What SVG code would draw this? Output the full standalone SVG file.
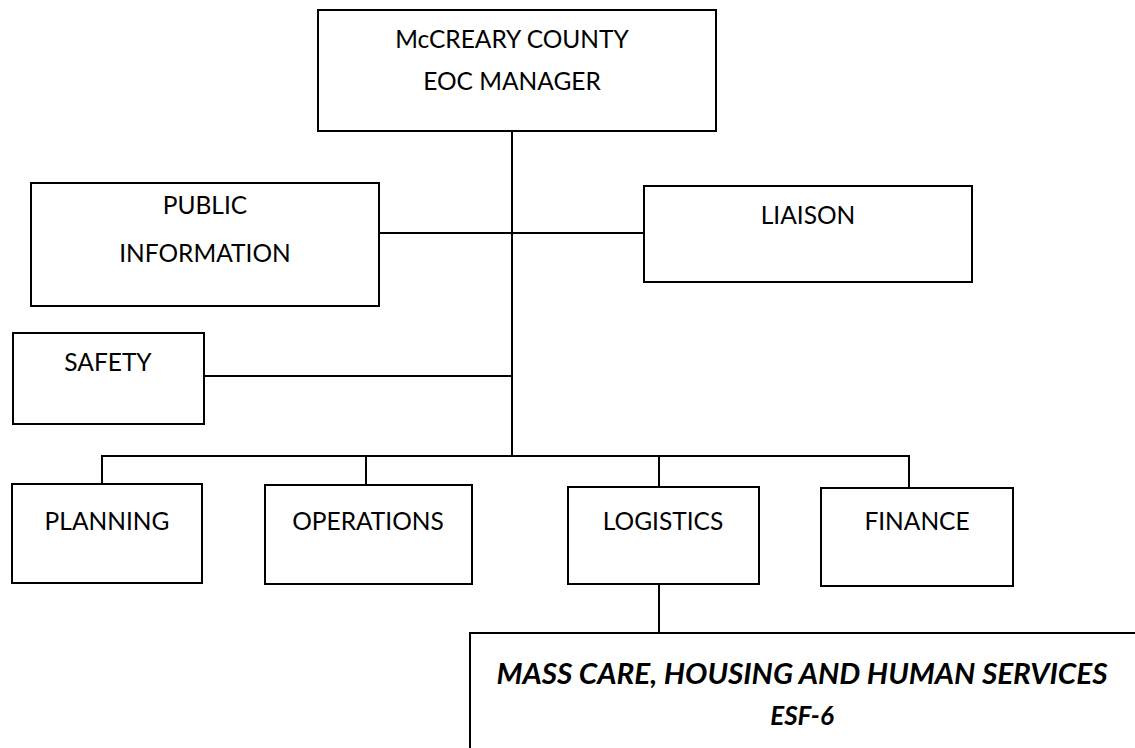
<svg xmlns="http://www.w3.org/2000/svg" width="1135" height="748" viewBox="0 0 1135 748">
<style>
.box{fill:#fff;stroke:#000;stroke-width:2}
.ln{stroke:#000;stroke-width:2;fill:none}
.t{font-family:Lato,"Open Sans","Liberation Sans",sans-serif;font-size:24.5px;fill:#000;text-anchor:middle}
.bi{font-family:Lato,"Open Sans","Liberation Sans",sans-serif;font-size:28px;font-weight:bold;font-style:italic;fill:#000;text-anchor:middle}
</style>
<rect width="1135" height="748" fill="#fff"/>
<g id="connectors">
<line class="ln" x1="512" y1="131" x2="512" y2="457"/>
<line class="ln" x1="379" y1="233" x2="644" y2="233"/>
<line class="ln" x1="204" y1="376" x2="512" y2="376"/>
<polyline class="ln" points="102,484 102,456 909,456 909,488"/>
<line class="ln" x1="366" y1="456" x2="366" y2="485"/>
<line class="ln" x1="659" y1="456" x2="659" y2="487"/>
<line class="ln" x1="659" y1="584" x2="659" y2="633"/>
</g>
<g id="eoc-manager">
<rect class="box" x="318" y="10" width="398" height="121"/>
<text class="t" x="512" y="48">McCREARY COUNTY</text>
<text class="t" x="512" y="90">EOC MANAGER</text>
</g>
<g id="public-information">
<rect class="box" x="31" y="183" width="348" height="123"/>
<text class="t" x="205" y="214">PUBLIC</text>
<text class="t" x="205" y="262">INFORMATION</text>
</g>
<g id="liaison">
<rect class="box" x="644" y="186" width="328" height="96"/>
<text class="t" x="808" y="224">LIAISON</text>
</g>
<g id="safety">
<rect class="box" x="13" y="333" width="191" height="91"/>
<text class="t" x="108" y="371">SAFETY</text>
</g>
<g id="planning">
<rect class="box" x="12" y="484" width="190" height="99"/>
<text class="t" x="107" y="530">PLANNING</text>
</g>
<g id="operations">
<rect class="box" x="265" y="485" width="207" height="99"/>
<text class="t" x="368" y="530">OPERATIONS</text>
</g>
<g id="logistics">
<rect class="box" x="568" y="487" width="191" height="97"/>
<text class="t" x="663" y="530">LOGISTICS</text>
</g>
<g id="finance">
<rect class="box" x="821" y="488" width="192" height="98"/>
<text class="t" x="917" y="530">FINANCE</text>
</g>
<g id="mass-care">
<rect class="box" x="470" y="633" width="700" height="140"/>
<text class="bi" x="802" y="684" textLength="611" lengthAdjust="spacingAndGlyphs">MASS CARE, HOUSING AND HUMAN SERVICES</text>
<text class="bi" x="802" y="725" style="font-size:26px">ESF-6</text>
</g>
</svg>
